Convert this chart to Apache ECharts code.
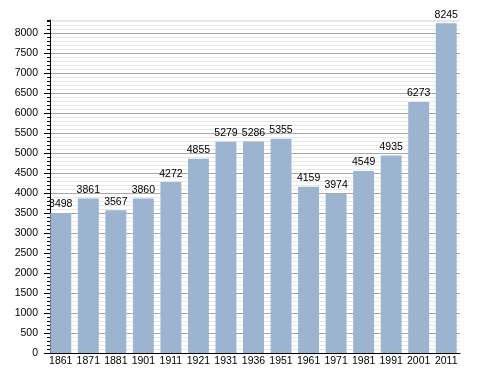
<!DOCTYPE html>
<html><head><meta charset="utf-8">
<script src="https://cdn.jsdelivr.net/npm/echarts@6/dist/echarts.min.js"></script>
<style>html,body{margin:0;padding:0;background:#fff}#c{width:488px;height:373px}</style>
</head><body><div id="c"></div>
<script>
const years = ['1861','1871','1881','1901','1911','1921','1931','1936','1951','1961','1971','1981','1991','2001','2011'];
const population = [3498,3861,3567,3860,4272,4855,5279,5286,5355,4159,3974,4549,4935,6273,8245];
const yTickLabels = [0,500,1000,1500,2000,2500,3000,3500,4000,4500,5000,5500,6000,6500,7000,7500,8000];

const font = 'Liberation Sans, Arial, sans-serif';
const chart = echarts.init(document.getElementById('c'));
chart.setOption({
  animation: false,
  grid: {left: 47, top: 20, width: 413, height: 333, containLabel: false},
  xAxis: {
    type: 'category', data: years,
    axisLine: {lineStyle: {color: '#000', width: 1}},
    axisTick: {show: false},
    axisLabel: {color: '#000', fontFamily: font, fontSize: 10.5, margin: 3, interval: 0}
  },
  yAxis: [{
    type: 'value', min: 0, max: 8325, interval: 100, offset: -3,
    axisLine: {show: true, lineStyle: {color: '#000', width: 1}},
    axisTick: {show: true, length: 3, lineStyle: {color: '#000'}},
    axisLabel: {show: false},
    splitLine: {show: true, lineStyle: {width: 1, color: ['#a8a8a8','#e8e8e8','#e8e8e8','#e8e8e8','#e8e8e8']}}
  }, {
    type: 'value', min: 0, max: 8325, position: 'left', offset: -3,
    axisLine: {show: false},
    axisTick: {show: true, length: 6, lineStyle: {color: '#000'}, customValues: yTickLabels},
    axisLabel: {show: true, color: '#000', fontFamily: font, fontSize: 10.5, margin: 12,
      customValues: yTickLabels, formatter: v => String(v)},
    splitLine: {show: false}
  }],
  series: [{
    type: 'bar', data: population, barWidth: '76%',
    itemStyle: {color: '#9cb4cf'},
    label: {show: true, position: 'top', distance: 3, color: '#000', fontFamily: font, fontSize: 10.5}
  }]
});
</script></body></html>
